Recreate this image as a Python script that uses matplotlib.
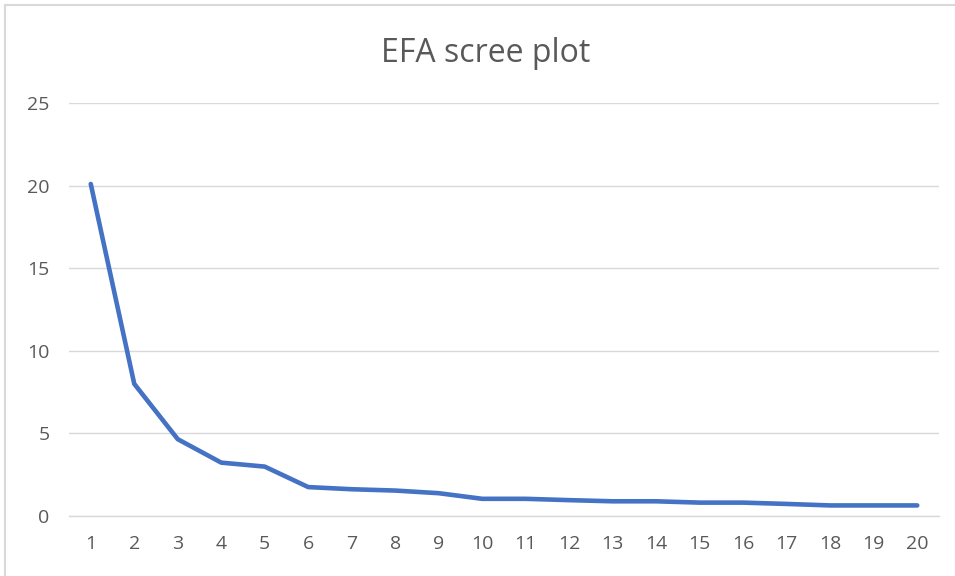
import matplotlib
matplotlib.use("Agg")
import matplotlib.pyplot as plt
from matplotlib.patches import Rectangle

factors = list(range(1, 21))
eigenvalues = [20.1, 8.0, 4.65, 3.23, 2.99, 1.75, 1.62, 1.54, 1.38, 1.04,
               1.04, 0.96, 0.89, 0.89, 0.81, 0.81, 0.73, 0.64, 0.64, 0.64]
y_ticks = [0, 5, 10, 15, 20, 25]
title = "EFA scree plot"

plt.rcParams['font.family'] = ['Open Sans', 'DejaVu Sans']

W, H = 955, 576
fig = plt.figure(figsize=(W / 100, H / 100), dpi=100)
fig.patch.set_facecolor('white')

# chart border
fig.patches.append(Rectangle((5 / W, -0.1), 1.2, 1.1 - 5 / H, transform=fig.transFigure,
                             fill=False, edgecolor='#D9D9D9', linewidth=1.5, zorder=0))

left, right = 69 / W, 939 / W
bottom, top = 1 - 516 / H, 1 - 103 / H
ax = fig.add_axes([left, bottom, right - left, top - bottom])

ax.plot(factors, eigenvalues, color='#4472C4', linewidth=3.3, solid_capstyle='round',
        solid_joinstyle='round', zorder=3)

ax.set_xlim(0.5, 20.5)
ax.set_ylim(0, 25)
ax.set_xticks(factors)
ax.set_xticklabels([str(f) for f in factors])
ax.set_yticks(y_ticks)
ax.set_yticklabels([str(t) for t in y_ticks])
ax.grid(axis='y', color='#D9D9D9', linewidth=1.0)
ax.set_axisbelow(True)
for s in ['top', 'right', 'left']:
    ax.spines[s].set_visible(False)
ax.spines['bottom'].set_color('#D9D9D9')
ax.spines['bottom'].set_linewidth(1.0)
ax.tick_params(axis='both', length=0, labelsize=14, labelcolor='#595959')
ax.tick_params(axis='y', pad=14)
ax.tick_params(axis='x', pad=14)

fig.text(486 / W, 1 - 62.5 / H, title, ha='center', va='baseline', fontsize=23, color='#595959')

fig.savefig('out.png', dpi=100)
